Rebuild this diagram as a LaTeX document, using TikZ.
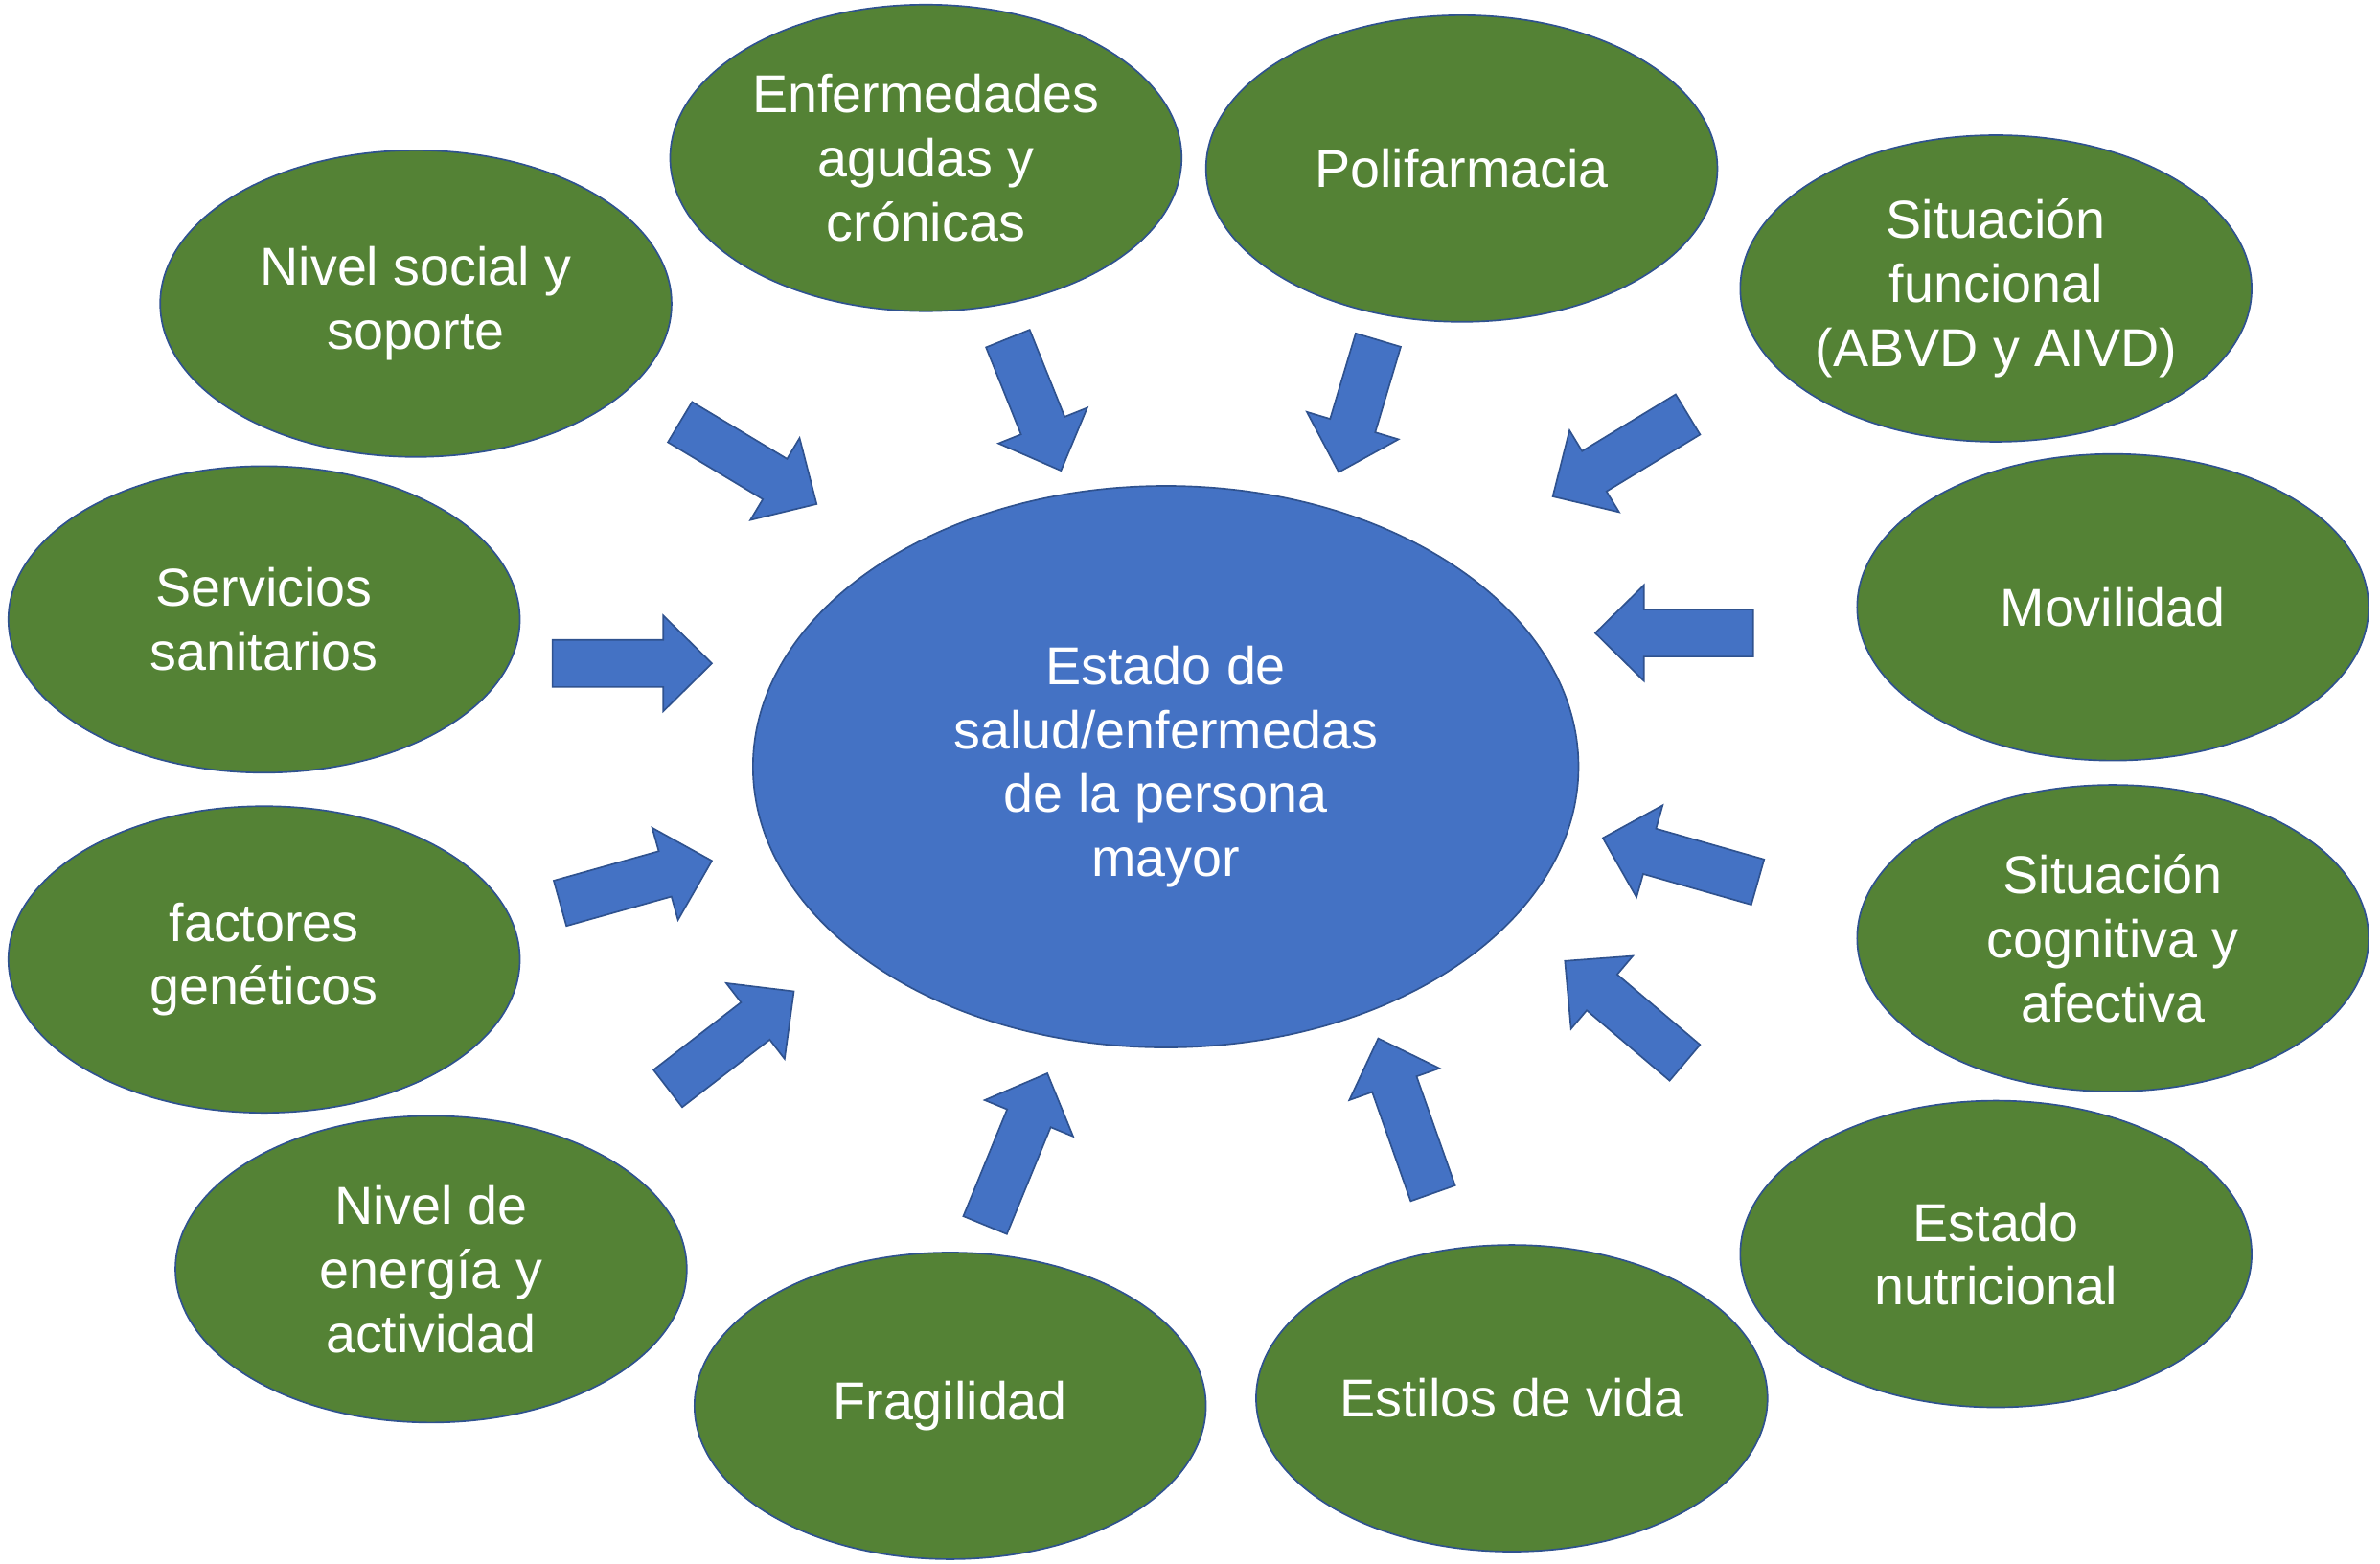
\documentclass[tikz,border=0pt]{standalone}
\usepackage{fontspec}
\setmainfont{Liberation Sans}
\definecolor{verdeFac}{RGB}{84,130,53}
\definecolor{azulCen}{RGB}{68,114,196}
\definecolor{bordeAz}{RGB}{47,82,143}
\usepackage{tikz}
\usetikzlibrary{shapes.geometric, calc}

\begin{document}
\begin{tikzpicture}[x=0.02cm, y=-0.02cm,
  factor/.style={ellipse, draw=bordeAz, line width=0.6pt, fill=verdeFac,
    text=white, align=center, inner sep=0pt,
    minimum width=6.74cm, minimum height=4.04cm,
    font=\fontsize{20}{24}\selectfont},
  centro/.style={factor, fill=azulCen, minimum width=10.88cm, minimum height=7.4cm},
  flecha/.style={fill=azulCen, draw=bordeAz, line width=0.6pt}]
  \useasboundingbox (0,0) rectangle (1568,1030);

  % Estado central
  \node[centro] (est) at (768,505) {Estado de\\salud/enfermedas\\de la persona\\mayor};

  % Factores alrededor
  \node[factor] (enf) at (610,104) {Enfermedades\\agudas y\\crónicas};
  \node[factor] (pol) at (963,111) {Polifarmacia};
  \node[factor] (fun) at (1315,190) {Situación\\funcional\\(ABVD y AIVD)};
  \node[factor] (mov) at (1392,400) {Movilidad};
  \node[factor] (cog) at (1392,618) {Situación\\cognitiva y\\afectiva};
  \node[factor] (nut) at (1315,826) {Estado\\nutricional};
  \node[factor] (vid) at (996,921) {Estilos de vida};
  \node[factor] (fra) at (626,926) {Fragilidad};
  \node[factor] (ene) at (284,836) {Nivel de\\energía y\\actividad};
  \node[factor] (gen) at (174,632) {factores\\genéticos};
  \node[factor] (san) at (174,408) {Servicios\\sanitarios};
  \node[factor] (soc) at (274,200) {Nivel social y\\soporte};

  % Flechas de bloque hacia el centro (cola / punta)
  \foreach \ax/\ay/\bx/\by in {448/278/538/332, 664/223/699/310,
                               908/224/882/311, 1112/273/1023/327,
                               1155/417/1051/417, 1158/581/1056/552,
                               1110/700/1031/633, 944/786/908/684,
                               649/807/690/707, 440/717/523/653,
                               369/595/469/567, 364/437/469/437}{
    \coordinate (t) at (\ax,\ay);
    \coordinate (p) at (\bx,\by);
    \coordinate (h) at ($(p)!0.64cm!(t)$);
    \filldraw[flecha] ($(t)!0.31cm!90:(p)$) -- ($(h)!0.31cm!90:(p)$)
      -- ($(h)!0.63cm!90:(p)$) -- (p) -- ($(h)!0.63cm!-90:(p)$)
      -- ($(h)!0.31cm!-90:(p)$) -- ($(t)!0.31cm!-90:(p)$) -- cycle;
  }
\end{tikzpicture}
\end{document}
